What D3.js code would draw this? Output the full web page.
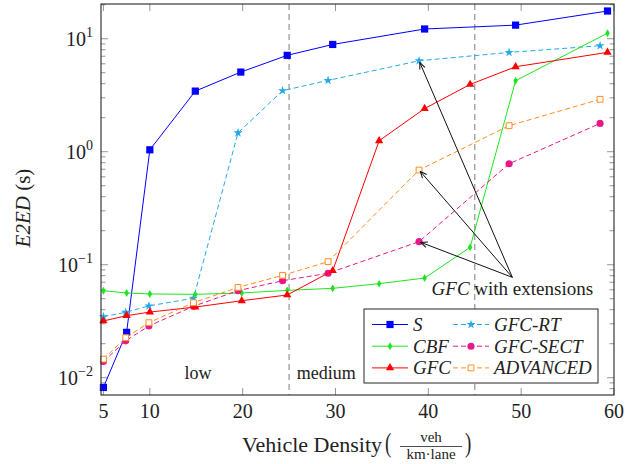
<!DOCTYPE html>
<html>
<head>
<meta charset="utf-8">
<script src="https://cdn.jsdelivr.net/npm/d3@7"></script>
<style>
  html, body { margin: 0; padding: 0; background: #fff; }
  svg { display: block; }
</style>
</head>
<body>
<div id="chart"></div>
<script>
// densities (veh/km/lane) at which each scheme was sampled
const densityS   = [5, 7.5, 10, 14.9, 19.8, 24.8, 29.7, 39.6, 49.4, 59.3];
const densityAll = [5, 7.5, 10, 14.9, 19.9, 24.8, 29.7, 34.7, 39.6, 44.5, 49.4, 59.3];
const densityExt = [5, 7.4, 9.9, 14.7, 19.5, 24.3, 29.2, 39.0, 48.7, 58.5];

// end-to-end delay (s)
const e2edS    = [0.0082, 0.0252, 1.04, 3.44, 5.07, 7.13, 8.9, 12.2, 13.2, 17.6];
const e2edCBF  = [0.0589, 0.0562, 0.0551, 0.0547, 0.0562, 0.0593, 0.0618, 0.068, 0.0762, 0.1426, 4.25, 11.2];
const e2edGFC  = [0.0318, 0.0354, 0.0381, 0.0422, 0.048, 0.054, 0.0885, 1.25, 2.41, 3.94, 5.65, 7.58];
const e2edRT   = [0.0347, 0.0379, 0.0432, 0.0505, 1.47, 3.47, 4.28, 6.38, 7.57, 8.67];
const e2edSECT = [0.0139, 0.0212, 0.0287, 0.0429, 0.0589, 0.0722, 0.084, 0.160, 0.783, 1.78];
const e2edADV  = [0.0146, 0.0226, 0.0307, 0.0461, 0.063, 0.0805, 0.1064, 0.689, 1.70, 2.91];

const xTicks = [5, 10, 20, 30, 40, 50, 60];
const yTicks = [0.01, 0.1, 1, 10];
const yTickExp = ["\u22122", "\u22121", "0", "1"];
const regionBounds = [25, 45];
const regionLabels = [{ text: "low", x: 15.2 }, { text: "medium", x: 29 }];

const series = [
  { name: "S",         xs: densityS,   ys: e2edS,    color: "#0000ff", dash: null,  mark: "square" },
  { name: "GFC-RT",    xs: densityExt, ys: e2edRT,   color: "#25a9e8", dash: "5,3", mark: "star" },
  { name: "CBF",       xs: densityAll, ys: e2edCBF,  color: "#1ee61e", dash: null,  mark: "diamond" },
  { name: "GFC-SECT",  xs: densityExt, ys: e2edSECT, color: "#e8178a", dash: "5,3", mark: "circle" },
  { name: "GFC",       xs: densityAll, ys: e2edGFC,  color: "#ff0000", dash: null,  mark: "triangle" },
  { name: "ADVANCED",  xs: densityExt, ys: e2edADV,  color: "#ff8c1f", dash: "5,3", mark: "osquare" }
];

// annotation: anchor in data coords, arrows to the 40 veh/km points of the extensions
const noteAnchor = [49.05, 0.0773];
const noteTargets = [["GFC-RT", 7], ["ADVANCED", 7], ["GFC-SECT", 7]];

const serif = "'Liberation Serif', 'Times New Roman', 'DejaVu Serif', serif";
const width = 641, height = 464;
const svg = d3.select("#chart").append("svg")
  .attr("width", width)
  .attr("height", height)
  .attr("font-family", serif)
  .attr("fill", "#222");

const x = d3.scaleLinear().domain([4.74, 60]).range([101, 614]);
const y = d3.scaleLog().domain([0.00703, 20.3]).range([395, 4]);
const [x0, x1] = x.range();
const [y0, y1] = y.range();

// region separators
svg.append("g").selectAll("line")
  .data(regionBounds)
  .join("line")
  .attr("x1", d => x(d)).attr("x2", d => x(d))
  .attr("y1", y1).attr("y2", y0)
  .attr("stroke", "#9a9a9a")
  .attr("stroke-width", 1.3)
  .attr("stroke-dasharray", "6,4");

svg.append("g").selectAll("text")
  .data(regionLabels)
  .join("text")
  .attr("x", d => x(d.x))
  .attr("y", 379)
  .attr("text-anchor", "middle")
  .attr("font-size", 18)
  .text(d => d.text);

// ticks (inward, mirrored)
const tickG = svg.append("g").attr("stroke", "#8a8a8a").attr("stroke-width", 0.9);
xTicks.forEach(t => {
  tickG.append("line").attr("x1", x(t)).attr("x2", x(t)).attr("y1", y0).attr("y2", y0 - 7);
  tickG.append("line").attr("x1", x(t)).attr("x2", x(t)).attr("y1", y1).attr("y2", y1 + 7);
});
const minor = y.ticks().filter(t => !yTicks.some(m => Math.abs(m - t) < 1e-9));
minor.forEach(t => {
  tickG.append("line").attr("x1", x0).attr("x2", x0 + 4.5).attr("y1", y(t)).attr("y2", y(t));
  tickG.append("line").attr("x1", x1).attr("x2", x1 - 4.5).attr("y1", y(t)).attr("y2", y(t));
});
yTicks.forEach(t => {
  tickG.append("line").attr("x1", x0).attr("x2", x0 + 7).attr("y1", y(t)).attr("y2", y(t));
  tickG.append("line").attr("x1", x1).attr("x2", x1 - 7).attr("y1", y(t)).attr("y2", y(t));
});

// tick labels
svg.append("g").selectAll("text")
  .data(xTicks)
  .join("text")
  .attr("x", d => x(d))
  .attr("y", 418)
  .attr("text-anchor", "middle")
  .attr("font-size", 20)
  .text(d => d);

const yl = svg.append("g").selectAll("text")
  .data(yTicks)
  .join("text")
  .attr("x", 93)
  .attr("y", d => y(d) + 7)
  .attr("text-anchor", "end")
  .attr("font-size", 20);
yl.append("tspan").text("10");
yl.append("tspan").attr("dy", -9).attr("font-size", 14).text((d, i) => yTickExp[i]);

// series
const line = d3.line();
function drawMark(g, kind, color) {
  const sym = {
    square: d3.symbolSquare, osquare: d3.symbolSquare, diamond: d3.symbolDiamond,
    triangle: d3.symbolTriangle, circle: d3.symbolCircle, star: d3.symbolStar
  }[kind];
  const size = { square: 52, osquare: 34, diamond: 18, triangle: 30, circle: 40, star: 26 }[kind];
  g.append("path")
    .attr("d", d3.symbol(sym, size)())
    .attr("fill", kind === "osquare" ? "#fff" : color)
    .attr("stroke", kind === "osquare" ? color : "none")
    .attr("stroke-width", 1);
}

const plotG = svg.append("g");
series.forEach(s => {
  const pts = s.xs.map((d, i) => [x(d), y(s.ys[i])]);
  plotG.append("path")
    .attr("d", line(pts))
    .attr("fill", "none")
    .attr("stroke", s.color)
    .attr("stroke-width", 1)
    .attr("stroke-dasharray", s.dash);
  pts.forEach(p => {
    drawMark(plotG.append("g").attr("transform", `translate(${p[0]},${p[1]})`), s.mark, s.color);
  });
});

// frame
svg.append("rect")
  .attr("x", x0).attr("y", y1)
  .attr("width", x1 - x0).attr("height", y0 - y1)
  .attr("fill", "none")
  .attr("stroke", "#262626")
  .attr("stroke-width", 1.1);

// annotation arrows
svg.append("defs").append("marker")
  .attr("id", "arr")
  .attr("viewBox", "0 0 10 10")
  .attr("refX", 9).attr("refY", 5)
  .attr("markerWidth", 8).attr("markerHeight", 8)
  .attr("orient", "auto")
  .append("path")
  .attr("d", "M1,1.5 L9,5 L1,8.5")
  .attr("fill", "none")
  .attr("stroke", "#111")
  .attr("stroke-width", 1.3);

const ax = x(noteAnchor[0]), ay = y(noteAnchor[1]);
noteTargets.forEach(([name, idx]) => {
  const s = series.find(d => d.name === name);
  const tx = x(s.xs[idx]), ty = y(s.ys[idx]);
  const len = Math.hypot(tx - ax, ty - ay);
  const k = (len - 2) / len;
  svg.append("line")
    .attr("x1", ax).attr("y1", ay)
    .attr("x2", ax + (tx - ax) * k).attr("y2", ay + (ty - ay) * k)
    .attr("stroke", "#111")
    .attr("stroke-width", 1)
    .attr("marker-end", "url(#arr)");
});
const note = svg.append("text")
  .attr("x", ax)
  .attr("y", ay + 18)
  .attr("text-anchor", "middle")
  .attr("font-size", 19);
note.append("tspan").attr("font-style", "italic").text("GFC");
note.append("tspan").text(" with extensions");

// legend (two columns, filled row by row)
const lg = svg.append("g").attr("transform", "translate(364,309)");
lg.append("rect")
  .attr("width", 234).attr("height", 74)
  .attr("fill", "#fff")
  .attr("stroke", "#262626")
  .attr("stroke-width", 1);
series.forEach((s, i) => {
  const col = i % 2, row = Math.floor(i / 2);
  const g = lg.append("g").attr("transform", `translate(${8 + col * 81},${15.5 + row * 21.7})`);
  g.append("line")
    .attr("x1", 0).attr("x2", 36)
    .attr("stroke", s.color)
    .attr("stroke-width", 1)
    .attr("stroke-dasharray", s.dash);
  drawMark(g.append("g").attr("transform", "translate(18,0)"), s.mark, s.color);
  g.append("text")
    .attr("x", 41)
    .attr("y", 6.5)
    .attr("font-size", 19)
    .attr("font-style", "italic")
    .text(s.name);
});

// axis labels
const xl = svg.append("g");
xl.append("text")
  .attr("x", 382).attr("y", 452)
  .attr("text-anchor", "end")
  .attr("font-size", 22)
  .text("Vehicle Density");
xl.append("text")
  .attr("transform", "translate(385,452) scale(1,1.45)")
  .attr("font-size", 19)
  .text("(");
xl.append("text")
  .attr("x", 431).attr("y", 441.5)
  .attr("text-anchor", "middle")
  .attr("font-size", 15)
  .text("veh");
xl.append("line")
  .attr("x1", 400).attr("x2", 462)
  .attr("y1", 446.5).attr("y2", 446.5)
  .attr("stroke", "#222").attr("stroke-width", 0.8);
xl.append("text")
  .attr("x", 431).attr("y", 459)
  .attr("text-anchor", "middle")
  .attr("font-size", 15)
  .text("km\u00b7lane");
xl.append("text")
  .attr("transform", "translate(465,452) scale(1,1.45)")
  .attr("font-size", 19)
  .text(")");

const ylab = svg.append("text")
  .attr("transform", "translate(30,208) rotate(-90)")
  .attr("text-anchor", "middle")
  .attr("font-size", 21);
ylab.append("tspan").attr("font-style", "italic").text("E2ED");
ylab.append("tspan").text(" (s)");
</script>
</body>
</html>
